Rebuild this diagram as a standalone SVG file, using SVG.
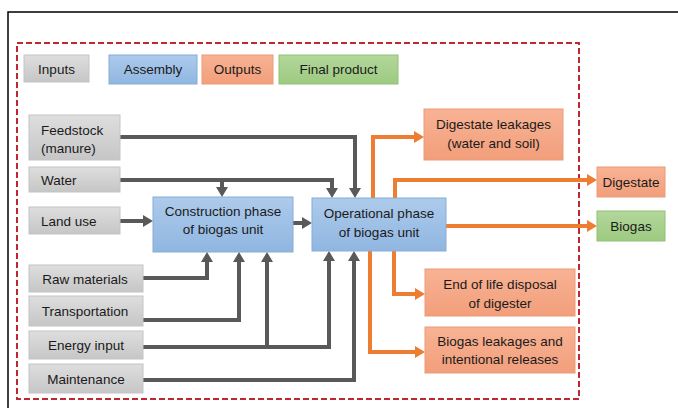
<svg xmlns="http://www.w3.org/2000/svg" width="678" height="408" viewBox="0 0 678 408">
<defs>
<linearGradient id="gGray" x1="0" y1="0" x2="0" y2="1"><stop offset="0" stop-color="#dedede"/><stop offset="1" stop-color="#c6c6c6"/></linearGradient>
<linearGradient id="gBlue" x1="0" y1="0" x2="0" y2="1"><stop offset="0" stop-color="#adcbeb"/><stop offset="1" stop-color="#90b6e1"/></linearGradient>
<linearGradient id="gOrange" x1="0" y1="0" x2="0" y2="1"><stop offset="0" stop-color="#f8b394"/><stop offset="1" stop-color="#f29e7b"/></linearGradient>
<linearGradient id="gGreen" x1="0" y1="0" x2="0" y2="1"><stop offset="0" stop-color="#b3d79b"/><stop offset="1" stop-color="#9dca80"/></linearGradient>
<marker id="aGray" viewBox="0 0 10 12" refX="0" refY="6" markerWidth="10" markerHeight="12" markerUnits="userSpaceOnUse" orient="auto"><path d="M0,0 L10,6 L0,12 z" fill="#595959"/></marker>
<marker id="aOrange" viewBox="0 0 10 12" refX="0" refY="6" markerWidth="10" markerHeight="12" markerUnits="userSpaceOnUse" orient="auto"><path d="M0,0 L10,6 L0,12 z" fill="#ed7d31"/></marker>
</defs>
<style>
text{font-family:"Liberation Sans",Arial,sans-serif;font-size:13.5px;fill:#1a1a1a;dominant-baseline:central}
.c{text-anchor:middle}
.gray{fill:url(#gGray);stroke:#c4c4c4;stroke-width:1}
.blue{fill:url(#gBlue);stroke:#86acd8;stroke-width:1}
.orange{fill:url(#gOrange);stroke:#ee9a77;stroke-width:1}
.green{fill:url(#gGreen);stroke:#91c176;stroke-width:1}
.lg{fill:none;stroke:#595959;stroke-width:4;marker-end:url(#aGray)}
.lo{fill:none;stroke:#ed7d31;stroke-width:4;marker-end:url(#aOrange)}
</style>
<rect width="678" height="408" fill="#ffffff"/>
<path d="M8,408 V12 H678" fill="none" stroke="#000000" stroke-width="1.5"/>
<rect x="17" y="43" width="562" height="356" fill="none" stroke="#c0282f" stroke-width="2" stroke-dasharray="6,3"/>

<g id="legend-inputs"><rect class="gray" x="24" y="55" width="65" height="27"/><text class="c" x="56.5" y="69">Inputs</text></g>
<g id="legend-assembly"><rect class="blue" x="109" y="55" width="88" height="29"/><text class="c" x="153" y="69.5">Assembly</text></g>
<g id="legend-outputs"><rect class="orange" x="202" y="55" width="71" height="29"/><text class="c" x="237.5" y="69.5">Outputs</text></g>
<g id="legend-final"><rect class="green" x="279" y="55" width="119" height="29"/><text class="c" x="338.5" y="69.5">Final product</text></g>

<g id="connectors">
<path class="lg" d="M120,137 H355 V188"/>
<path class="lg" d="M120,180 H332 V188"/>
<path class="lg" d="M222,180 V187"/>
<path class="lg" d="M120,221 H143"/>
<path class="lg" d="M293,223 H302"/>
<path class="lg" d="M143,278 H207 V262"/>
<path class="lg" d="M143,320 H239 V262"/>
<path class="lg" d="M143,347 H329 V261"/>
<path class="lg" d="M267,347 V262"/>
<path class="lg" d="M143,380 H354 V261"/>
<path class="lo" d="M373,198 V137 H414"/>
<path class="lo" d="M395,198 V180 H587"/>
<path class="lo" d="M446,226 H587"/>
<path class="lo" d="M394,251 V294 H415"/>
<path class="lo" d="M370,251 V352 H415"/>
</g>

<g id="feedstock"><rect class="gray" x="29" y="115" width="91" height="45"/><text x="41" y="130">Feedstock</text><text x="41" y="148">(manure)</text></g>
<g id="water"><rect class="gray" x="29" y="167" width="91" height="25"/><text x="41" y="180">Water</text></g>
<g id="landuse"><rect class="gray" x="29" y="207" width="91" height="27"/><text x="41" y="221">Land use</text></g>
<g id="rawmaterials"><rect class="gray" x="29" y="265" width="114" height="27"/><text class="c" x="85" y="279">Raw materials</text></g>
<g id="transportation"><rect class="gray" x="29" y="296" width="114" height="30"/><text class="c" x="85" y="311">Transportation</text></g>
<g id="energyinput"><rect class="gray" x="29" y="331" width="114" height="28"/><text class="c" x="86" y="345">Energy input</text></g>
<g id="maintenance"><rect class="gray" x="29" y="364" width="114" height="29"/><text class="c" x="86" y="379">Maintenance</text></g>

<g id="construction"><rect class="blue" x="153" y="197" width="140" height="55"/><text class="c" x="223" y="211">Construction phase</text><text class="c" x="223" y="229">of biogas unit</text></g>
<g id="operational"><rect class="blue" x="312" y="198" width="134" height="53"/><text class="c" x="379" y="213">Operational phase</text><text class="c" x="379" y="232">of biogas unit</text></g>

<g id="digestateleakages"><rect class="orange" x="424" y="109" width="139" height="51"/><text class="c" x="493.5" y="124">Digestate leakages</text><text class="c" x="493.5" y="143">(water and soil)</text></g>
<g id="endoflife"><rect class="orange" x="425" y="269" width="150" height="47"/><text class="c" x="500" y="284">End of life disposal</text><text class="c" x="500" y="303">of digester</text></g>
<g id="biogasleakages"><rect class="orange" x="425" y="327" width="150" height="46"/><text class="c" x="500" y="341">Biogas leakages and</text><text class="c" x="500" y="359">intentional releases</text></g>

<g id="digestate"><rect class="orange" x="597" y="167" width="68" height="30"/><text class="c" x="631" y="182">Digestate</text></g>
<g id="biogas"><rect class="green" x="597" y="211" width="68" height="30"/><text class="c" x="631" y="226">Biogas</text></g>
</svg>
